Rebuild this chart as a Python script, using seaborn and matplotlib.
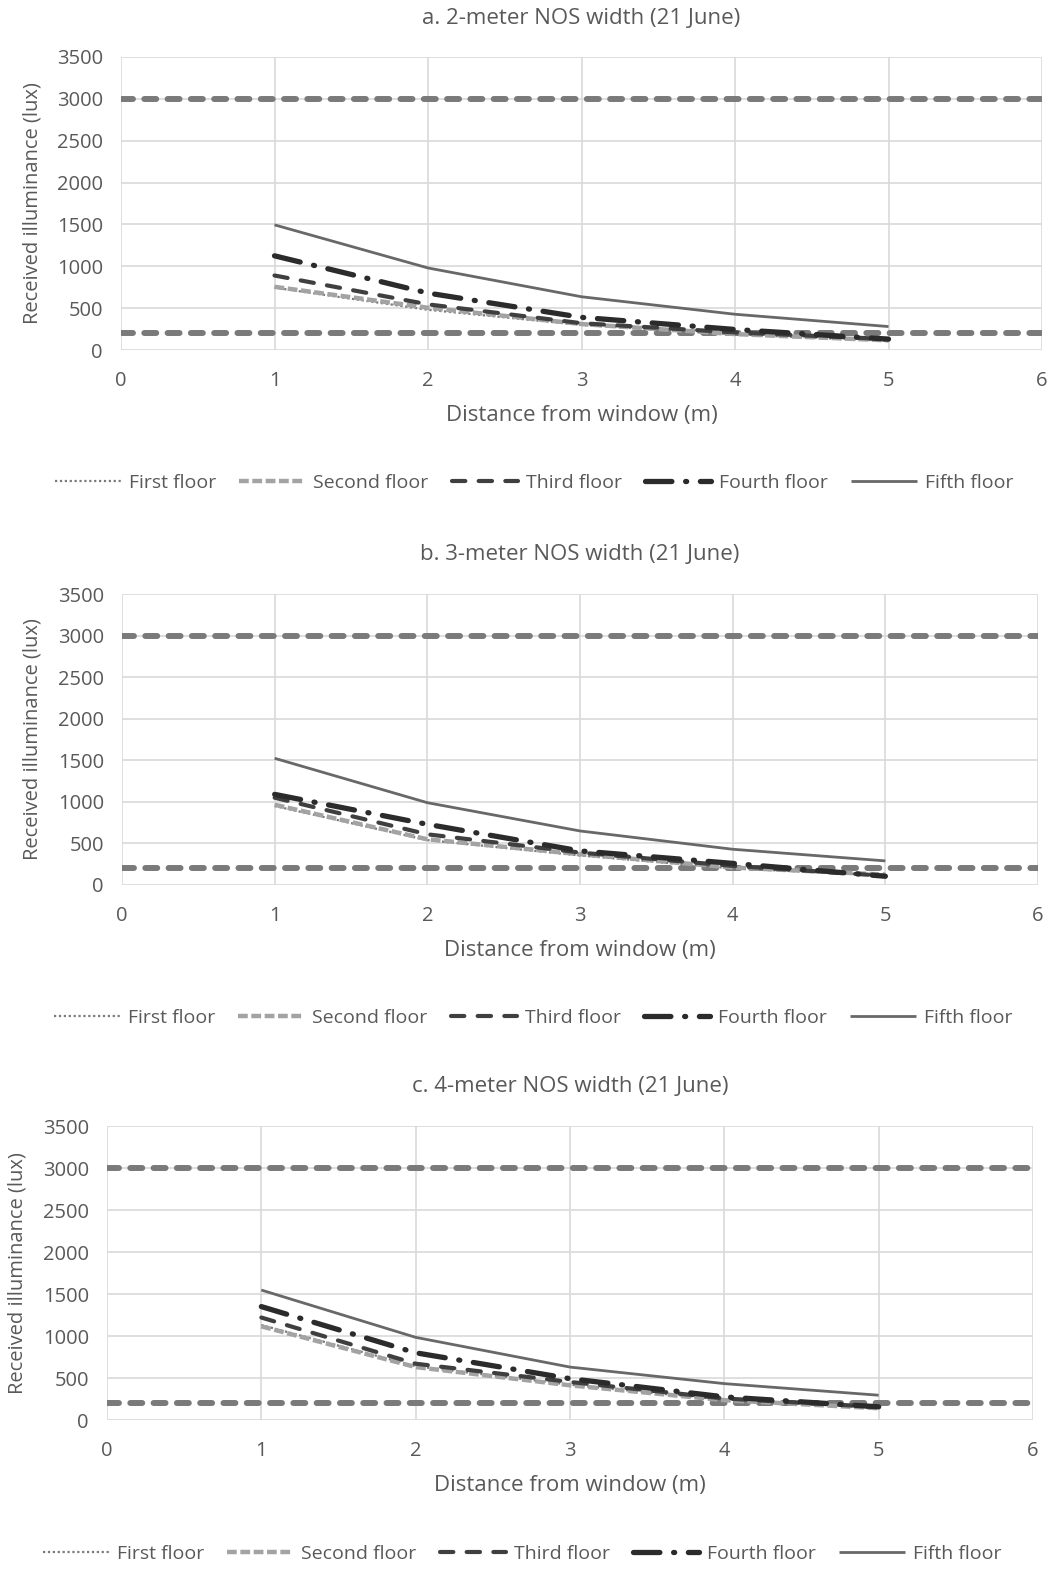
import numpy as np
import pandas as pd
import seaborn as sns
import matplotlib.pyplot as plt

# distance from window (m)
distance = [1, 2, 3, 4, 5]

floors = ["First floor", "Second floor", "Third floor", "Fourth floor", "Fifth floor"]

# received illuminance (lux)
a_first = [745, 480, 300, 185, 110]
a_second = [755, 505, 310, 190, 115]
a_third = [890, 545, 320, 210, 130]
a_fourth = [1125, 680, 390, 245, 130]
a_fifth = [1495, 980, 636, 427, 280]

b_first = [950, 540, 355, 200, 115]
b_second = [965, 550, 370, 210, 125]
b_third = [1050, 610, 390, 230, 110]
b_fourth = [1090, 730, 410, 260, 105]
b_fifth = [1524, 990, 650, 430, 290]

c_first = [1130, 640, 420, 240, 145]
c_second = [1115, 630, 413, 236, 140]
c_third = [1220, 670, 453, 256, 155]
c_fourth = [1350, 800, 492, 275, 157]
c_fifth = [1547, 984, 630, 433, 295]

# recommended range (lux)
thresholds = [200, 3000]

titles = ["a. 2-meter NOS width (21 June)",
          "b. 3-meter NOS width (21 June)",
          "c. 4-meter NOS width (21 June)"]

panels = [[a_first, a_second, a_third, a_fourth, a_fifth],
          [b_first, b_second, b_third, b_fourth, b_fifth],
          [c_first, c_second, c_third, c_fourth, c_fifth]]

sns.set_style("white")
plt.rcParams['font.family'] = ['Open Sans', 'DejaVu Sans']
txt = '#595959'

# line styles per floor
styles = {
    "First floor": dict(color='#7a7a7a', lw=1.6, dashes=(1, 1.2), cap='butt'),
    "Second floor": dict(color='#a3a3a3', lw=3.2, dashes=(2.2, 0.8), cap='butt'),
    "Third floor": dict(color='#3f3f3f', lw=3.0, dashes=(3.2, 3.2), cap='round'),
    "Fourth floor": dict(color='#2b2b2b', lw=3.8, dashes=(5.0, 2.6, 0.2, 2.6), cap='round'),
    "Fifth floor": dict(color='#686868', lw=2.0, dashes=None, cap='butt'),
}

W, H = 1054, 1569
fig = plt.figure(figsize=(W / 100, H / 100), dpi=100)

# axes boxes in pixels: left, right, top, bottom
boxes = [(121, 1042, 57, 350), (122, 1038, 594, 885), (107, 1033, 1126, 1420)]
title_y = [18, 555, 1087]
legend_y = [483, 1018, 1554]
legend_x = [534, 533, 522]
ylabel_x = [33, 33, 18]

for i, (l, r, t, b) in enumerate(boxes):
    ax = fig.add_axes([l / W, (H - b) / H, (r - l) / W, (b - t) / H])

    for th in thresholds:
        ax.axhline(th, color='#7a7a7a', lw=4.3, dashes=(2.0, 1.9),
                   dash_capstyle='round', zorder=2)

    df = pd.DataFrame({"distance": distance * 5,
                       "lux": sum(panels[i], []),
                       "floor": np.repeat(floors, len(distance))})
    for fl in floors:
        st = styles[fl]
        kw = dict(color=st['color'], lw=st['lw'], solid_capstyle='butt',
                  dash_capstyle=st['cap'], label=fl, zorder=3)
        if st['dashes'] is not None:
            kw['dashes'] = st['dashes']
        sns.lineplot(data=df[df.floor == fl], x="distance", y="lux", ax=ax, **kw)

    ax.set_xlim(0, 6)
    ax.set_ylim(0, 3500)
    ax.set_xticks(range(0, 7))
    ax.set_yticks(range(0, 3501, 500))
    ax.grid(True, color='#d9d9d9', lw=1.2)
    ax.set_axisbelow(True)
    for s in ax.spines.values():
        s.set_visible(False)
    ax.tick_params(length=0, labelsize=14.5, colors=txt)
    ax.tick_params(axis='x', pad=15)
    ax.tick_params(axis='y', pad=13)
    ax.set_xlabel("")
    ax.set_ylabel("")
    fig.text((l + r) / 2 / W, 1 - (b + 66) / H, "Distance from window (m)",
             ha='center', va='center', fontsize=16, color=txt)
    fig.text(ylabel_x[i] / W, 1 - (t + b) / 2 / H, "Received illuminance (lux)",
             rotation=90, ha='center', va='center', fontsize=14.5, color=txt)
    fig.text((l + r) / 2 / W, 1 - title_y[i] / H, titles[i],
             ha='center', va='center', fontsize=16, color=txt)

    leg = ax.legend(loc='center', bbox_to_anchor=(legend_x[i] / W, 1 - legend_y[i] / H),
                    bbox_transform=fig.transFigure, ncol=5, frameon=False,
                    fontsize=14, handlelength=3.4, handletextpad=0.4, columnspacing=1.2)
    for tx in leg.get_texts():
        tx.set_color(txt)

fig.savefig("out.png", dpi=100, facecolor='white')
